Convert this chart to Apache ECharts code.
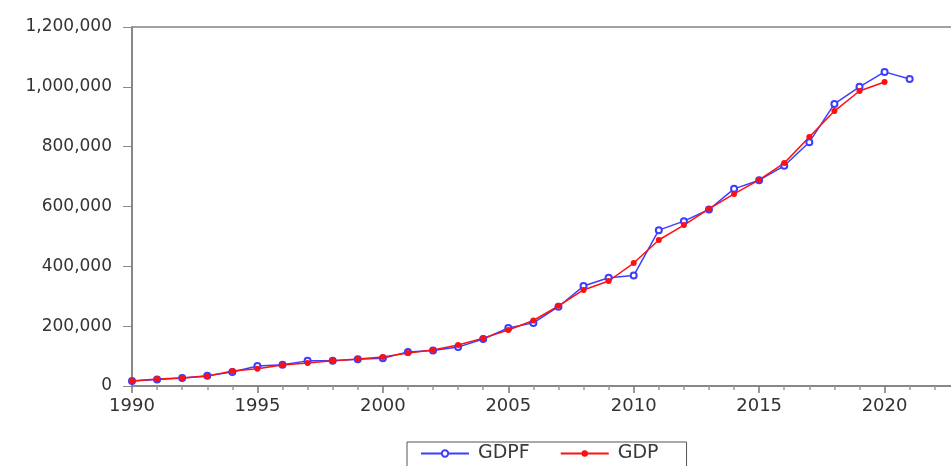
<!DOCTYPE html>
<html>
<head>
<meta charset="utf-8">
<script src="https://cdn.jsdelivr.net/npm/echarts@6/dist/echarts.min.js"></script>
<style>html,body{margin:0;padding:0;background:#fff}#c{width:951px;height:466px}</style>
</head>
<body>
<div id="c"></div>
<script>
const years = [1990,1991,1992,1993,1994,1995,1996,1997,1998,1999,2000,2001,2002,2003,2004,2005,2006,2007,2008,2009,2010,2011,2012,2013,2014,2015,2016,2017,2018,2019,2020,2021];
const gdpf = [17000,22000,27000,34000,47000,67000,71000,84000,84000,89000,93000,114000,119000,130000,157000,194000,211000,265000,334000,362000,369000,521000,551000,590000,659000,688000,736000,815000,943000,1000000,1050000,1026000];
const gdp = [17000,23000,27000,33000,50000,58000,70000,77000,84000,90000,97000,110000,120000,137000,160000,187000,219000,268000,321000,351000,411000,488000,538000,592000,642000,689000,745000,832000,919000,986000,1016000,null];
const yTicks = [0,200000,400000,600000,800000,1000000,1200000];

const pair = (arr) => years.map((y,i) => [y, arr[i]]).filter(p => p[1] !== null);

const chart = echarts.init(document.getElementById('c'));
chart.setOption({
  animation: false,
  backgroundColor: '#ffffff',
  grid: {left: 132, top: 27, height: 359, width: 878, containLabel: false, outerBoundsMode: 'none',
    show: true, borderColor: '#444', borderWidth: 1, backgroundColor: 'transparent'},
  legend: {
    left: 407, top: 442,
    padding: [2, 28, 20, 13],
    borderColor: '#555', borderWidth: 1,
    itemWidth: 48, itemHeight: 8, itemGap: 30,
    textStyle: {fontFamily: 'DejaVu Sans', fontSize: 19, color: '#3a3a3a', padding: [0, 0, 0, 4]},
    data: ['GDPF', 'GDP']
  },
  xAxis: {
    type: 'value', min: 1990, max: 2025, interval: 5,
    axisLine: {show: true, lineStyle: {color: '#888', width: 2}},
    axisTick: {show: true, length: 7, lineStyle: {color: '#777', width: 1.5}},
    minorTick: {show: true, splitNumber: 5, length: 4, lineStyle: {color: '#999', width: 1.5}},
    splitLine: {show: false},
    axisLabel: {fontFamily: 'DejaVu Sans', fontSize: 18, color: '#333', margin: 11, formatter: v => String(v)}
  },
  yAxis: {
    type: 'value', min: 0, max: 1200000, interval: 200000,
    axisLine: {show: true, lineStyle: {color: '#888', width: 2}},
    axisTick: {show: true, length: 9, lineStyle: {color: '#888', width: 1}},
    splitLine: {show: false},
    axisLabel: {fontFamily: 'DejaVu Sans', fontSize: 17, color: '#333', margin: 20,
      formatter: v => yTicks.includes(v) ? v.toLocaleString('en-US') : ''}
  },
  series: [
    {name: 'GDPF', type: 'line', data: pair(gdpf), symbol: 'emptyCircle', symbolSize: 6,
     itemStyle: {color: '#3d3dff', borderWidth: 1.3}, lineStyle: {color: '#3d3dff', width: 1.5}},
    {name: 'GDP', type: 'line', data: pair(gdp), symbol: 'circle', symbolSize: 6,
     itemStyle: {color: '#ff1010'}, lineStyle: {color: '#ff1010', width: 1.5}}
  ]
});
</script>
</body>
</html>
